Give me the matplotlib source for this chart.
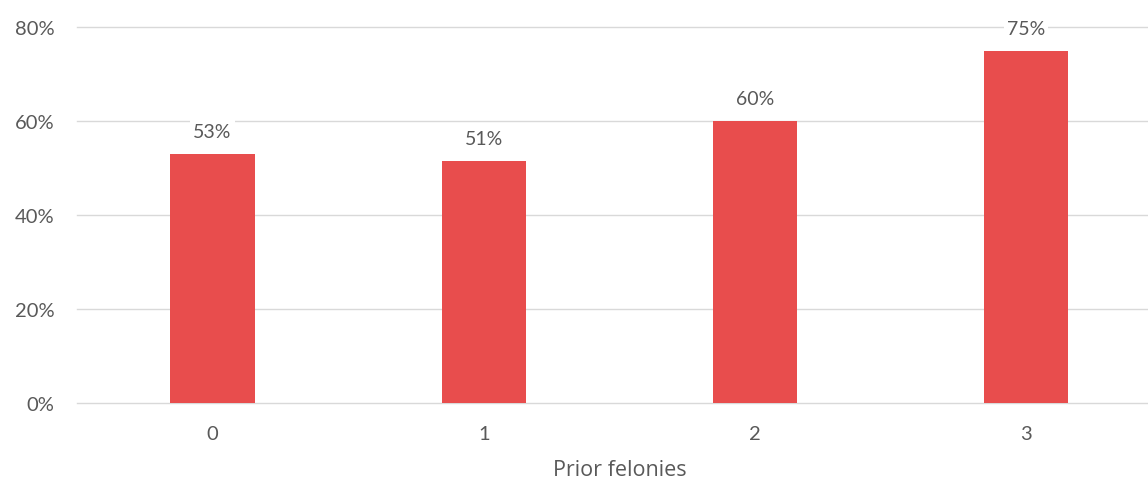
import matplotlib.pyplot as plt
from matplotlib import font_manager

# Data
categories = ["0", "1", "2", "3"]
values = [53, 51.5, 60, 75]
value_labels = ["53%", "51%", "60%", "75%"]
y_ticks = [0, 20, 40, 60, 80]

BAR_COLOR = "#E84D4D"
TEXT_COLOR = "#595959"
GRID_COLOR = "#D9D9D9"

names = {f.name for f in font_manager.fontManager.ttflist}
num_font = "Lato" if "Lato" in names else "DejaVu Sans"

fig = plt.figure(figsize=(11.48, 4.85), dpi=100)
ax = fig.add_axes([0.067, 0.167, 0.945, 0.775])

x = list(range(len(categories)))
ax.bar(x, values, width=0.31, color=BAR_COLOR, zorder=2)

for xi, v, lab in zip(x, values, value_labels):
    ax.annotate(lab, (xi, v), xytext=(0, 16), textcoords="offset points",
                ha="center", va="center", fontsize=14, color=TEXT_COLOR,
                family=num_font, zorder=4,
                bbox=dict(boxstyle="square,pad=0.15", fc="white", ec="none"))

ax.set_xlim(-0.5, 3.5)
ax.set_ylim(0, 80)
ax.set_yticks(y_ticks)
ax.set_yticklabels([f"{t}%" for t in y_ticks])
ax.set_xticks(x)
ax.set_xticklabels(categories)

ax.grid(axis="y", color=GRID_COLOR, linewidth=1.0, zorder=0)
for gl in ax.get_ygridlines():
    gl.set_clip_on(False)
ax.set_axisbelow(True)
for s in ax.spines.values():
    s.set_visible(False)
ax.tick_params(length=0, labelsize=14.5, labelcolor=TEXT_COLOR)
ax.tick_params(axis="y", pad=16)
ax.tick_params(axis="x", pad=16)
for t in ax.get_xticklabels() + ax.get_yticklabels():
    t.set_family(num_font)

ax.set_xlabel("Prior felonies", fontsize=15.5, color=TEXT_COLOR,
              family="Open Sans", labelpad=12)

fig.savefig("out.png", dpi=100)
